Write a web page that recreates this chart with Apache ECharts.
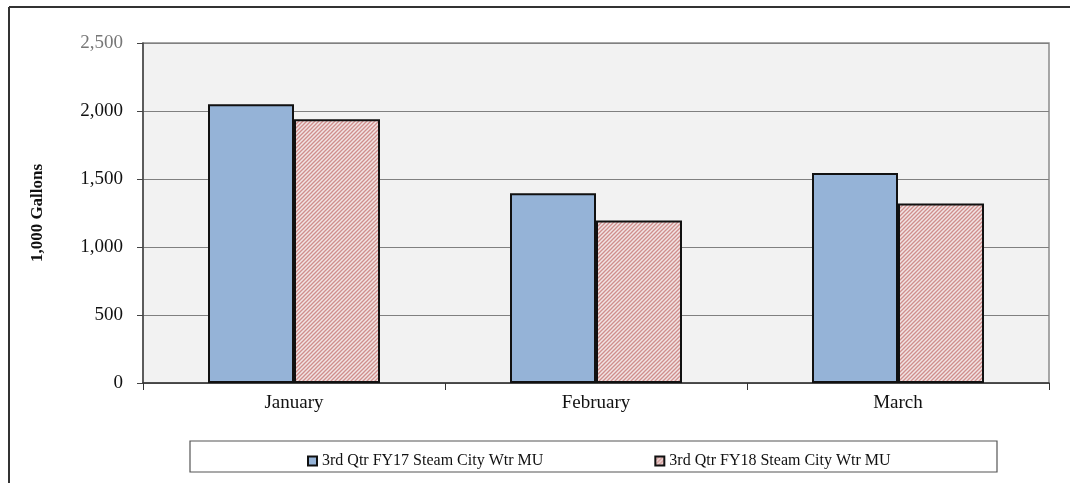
<!DOCTYPE html>
<html>
<head>
<meta charset="utf-8">
<script src="https://cdn.jsdelivr.net/npm/echarts@6/dist/echarts.min.js"></script>
<style>
  html, body { margin: 0; padding: 0; background: #fff; }
  #chart { width: 1071px; height: 483px; }
</style>
</head>
<body>
<div id="chart"></div>
<script>
// Monthly make-up water, steam city water (thousand gallons)
const months = ['January', 'February', 'March'];
const fy17 = [2050, 1395, 1545];
const fy18 = [1940, 1195, 1320];
const seriesNames = ['3rd Qtr FY17 Steam City Wtr MU', '3rd Qtr FY18 Steam City Wtr MU'];
const yTicks = [0, 500, 1000, 1500, 2000, 2500];

// Fine diagonal hatch used for the FY18 bars
function hatch() {
  const c = document.createElement('canvas');
  c.width = 4; c.height = 4;
  const g = c.getContext('2d');
  g.fillStyle = '#f1e4e4';
  g.fillRect(0, 0, 4, 4);
  g.strokeStyle = '#cf8e8c';
  g.lineWidth = 1.3;
  g.beginPath();
  g.moveTo(-1, 5); g.lineTo(5, -1);
  g.moveTo(-1, 1); g.lineTo(1, -1);
  g.moveTo(3, 5); g.lineTo(5, 3);
  g.stroke();
  return c;
}

const serif = '"Liberation Serif", "DejaVu Serif", serif';
const chart = echarts.init(document.getElementById('chart'));
chart.setOption({
  animation: false,
  textStyle: { fontFamily: serif },
  grid: {
    left: 143, top: 43, width: 906, height: 340,
    show: true, backgroundColor: '#f2f2f2', borderColor: '#8c8c8c', borderWidth: 1.5
  },
  graphic: [
    { type: 'line', shape: { x1: 9, y1: 7, x2: 9, y2: 483 }, style: { stroke: '#333', lineWidth: 2 } },
    { type: 'line', shape: { x1: 9, y1: 7, x2: 1070, y2: 7 }, style: { stroke: '#333', lineWidth: 2 } },
    { type: 'rect', shape: { x: 190, y: 441, width: 807, height: 31 }, style: { fill: '#fff', stroke: '#555', lineWidth: 1.2 }, z: -1 }
  ],
  legend: {
    left: 302, top: 448, itemGap: 111,
    icon: 'rect', itemWidth: 9, itemHeight: 9,
    textStyle: { fontFamily: serif, fontSize: 16, color: '#111' },
    data: seriesNames
  },
  xAxis: {
    type: 'category', data: months,
    axisLine: { lineStyle: { color: '#333', width: 1.5 } },
    axisTick: { show: true, length: 7, lineStyle: { color: '#333' } },
    axisLabel: { fontFamily: serif, fontSize: 19, color: '#111', margin: 11 }
  },
  yAxis: {
    type: 'value', min: yTicks[0], max: yTicks[yTicks.length - 1], interval: 500,
    name: '1,000 Gallons', nameLocation: 'middle', nameGap: 97,
    nameTextStyle: { fontFamily: serif, fontSize: 17, fontWeight: 'bold', color: '#111' },
    axisLine: { show: true, lineStyle: { color: '#444', width: 1.5 } },
    axisTick: { show: true, length: 6, lineStyle: { color: '#444' } },
    axisLabel: {
      fontFamily: serif, fontSize: 19, margin: 20,
      color: v => (Number(v) === 2500 ? '#777' : '#111'),
      formatter: v => v.toLocaleString('en-US')
    },
    splitLine: { lineStyle: { color: '#808080', width: 1.2 } }
  },
  series: [
    {
      name: seriesNames[0], type: 'bar', data: fy17, barWidth: 86, barGap: '0%',
      itemStyle: { color: '#95b3d7', borderColor: '#111', borderWidth: 2 }
    },
    {
      name: seriesNames[1], type: 'bar', data: fy18, barWidth: 86,
      itemStyle: { color: { image: hatch(), repeat: 'repeat' }, borderColor: '#111', borderWidth: 2 }
    }
  ]
});
</script>
</body>
</html>
